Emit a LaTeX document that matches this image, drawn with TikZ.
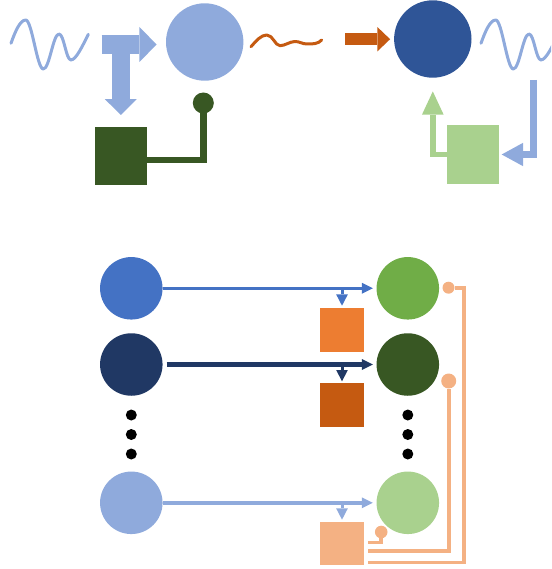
\documentclass[tikz,border=0pt]{standalone}
\usetikzlibrary{arrows.meta}
\definecolor{ltblue}{HTML}{8FAADC}
\definecolor{dkgreen}{HTML}{385723}
\definecolor{dkorange}{HTML}{C55A11}
\definecolor{navy}{HTML}{2F5597}
\definecolor{ltgreen}{HTML}{A9D18E}
\definecolor{blueA}{HTML}{4472C4}
\definecolor{blueB}{HTML}{203864}
\definecolor{greenA}{HTML}{70AD47}
\definecolor{orangeA}{HTML}{ED7D31}
\definecolor{peach}{HTML}{F4B183}
\begin{document}
\begin{tikzpicture}[x=1pt,y=-1pt,
  disc/.style={circle,inner sep=0pt,outer sep=0pt,minimum size=#1,draw=none},
  box/.style={rectangle,inner sep=0pt,outer sep=0pt,draw=none},
  bigdot/.style={circle,inner sep=0pt,outer sep=0pt,minimum size=11pt,fill=black,draw=none},
  wave/.style={line width=3pt,line cap=round,line join=round},
  tri/.style n args={2}{-{Triangle[length=#1,width=#2,line width=0pt]}}
]
\useasboundingbox (0,0) rectangle (551,569);
\clip (0,0) rectangle (551,569);

% ---------- top part ----------
\node[disc=77.4pt,fill=ltblue] (c1) at (204.7,42) {};
\node[disc=77.4pt,fill=navy] (c2) at (432.8,39) {};
\node[box,fill=dkgreen,minimum width=52.3pt,minimum height=58.3pt] (sqA) at (121.2,155.8) {};
\node[box,fill=ltgreen,minimum width=52.6pt,minimum height=59pt] (sqB) at (473,154.5) {};
\node[disc=21pt,fill=dkgreen] (dotA) at (203.3,103) {};

% waves
\draw[ltblue,wave] (11,43.3) .. controls (15,32) and (20,20) .. (25.7,20)
  .. controls (32,20) and (37,69) .. (43.3,69)
  .. controls (49.5,69) and (53,34) .. (59,34)
  .. controls (64,34) and (66,60) .. (71,60)
  .. controls (76,60) and (83,45) .. (88.3,34.3);
\begin{scope}[xshift=470pt]
\draw[ltblue,wave] (11,43.3) .. controls (15,32) and (20,20) .. (25.7,20)
  .. controls (32,20) and (37,69) .. (43.3,69)
  .. controls (49.5,69) and (53,34) .. (59,34)
  .. controls (64,34) and (66,60) .. (71,60)
  .. controls (76,60) and (83,45) .. (88.3,34.3);
\end{scope}
\draw[dkorange,wave] (251,46.7) .. controls (256,41) and (261,35) .. (266.7,35)
  .. controls (273,35) and (275,45.7) .. (280,45.7)
  .. controls (285,45.7) and (290,41.5) .. (295,41.5)
  .. controls (300,41.5) and (302,44) .. (307,44)
  .. controls (313,44) and (318,44) .. (321.7,40);

% T arrow
\coordinate (tstart) at (101.7,44.5);
\coordinate (tjoin) at (120.8,40);
\draw[ltblue,line width=18.3pt,tri={17.4pt}{35pt},shorten >=9.3pt] (tstart) -- (tstart -| c1.west);
\draw[ltblue,line width=18.3pt,tri={15.7pt}{31.7pt},shorten >=11.7pt] (tjoin) -- (tjoin |- sqA.north);

% green connector with dot
\draw[dkgreen,line width=6.6pt] (sqA.east) ++(0,4.2) -| (dotA);

% orange arrow
\coordinate (oastart) at (345,39.2);
\draw[dkorange,line width=11.7pt,tri={12.7pt}{24.3pt},shorten >=4pt] (oastart) -- (oastart -| c2.west);

% light green arrow
\draw[ltgreen,line width=5.8pt,tri={23.3pt}{21.7pt},shorten >=13.7pt] (sqB.west) -| (c2.south);

% blue feedback arrow
\coordinate (fbtop) at (533.3,80);
\draw[ltblue,line width=6.5pt,tri={21.3pt}{23.3pt},shorten >=2.4pt] (fbtop) |- (sqB.east);

% ---------- bottom part ----------
\node[disc=62.5pt,fill=blueA] (L1) at (131.3,288.3) {};
\node[disc=62.5pt,fill=blueB] (L2) at (131.3,364.5) {};
\node[disc=62.5pt,fill=ltblue] (L3) at (131.3,502.8) {};
\node[disc=62.5pt,fill=greenA] (R1) at (407.8,288.3) {};
\node[disc=62.5pt,fill=dkgreen] (R2) at (407.8,364.5) {};
\node[disc=62.5pt,fill=ltgreen] (R3) at (407.8,502.8) {};

\foreach \i/\y in {1/415,2/434.5,3/454}{
  \node[bigdot] (dl\i) at (131.3,\y) {};
  \node[bigdot] (dr\i) at (407.8,\y) {};
}

\node[box,fill=orangeA,minimum size=44pt] (sq1) at (342,329.7) {};
\node[box,fill=dkorange,minimum size=44pt] (sq2) at (342,405.3) {};
\node[box,fill=peach,minimum width=44pt,minimum height=43.3pt] (sq3) at (342,543.3) {};

\draw[blueA,line width=3.6pt,tri={11pt}{11pt},shorten >=3.7pt] (L1) -- (R1);
\draw[blueB,line width=4.2pt,tri={11pt}{11pt},shorten <=4pt,shorten >=3.7pt] (L2) -- (R2);
\draw[ltblue,line width=3.6pt,tri={11pt}{11pt},shorten >=3.7pt] (L3) -- (R3);

\draw[blueA,line width=3pt,tri={11.3pt}{11.7pt},shorten >=2pt] (sq1.north |- L1) -- (sq1.north);
\draw[blueB,line width=3pt,tri={11.3pt}{11.7pt},shorten >=2pt] (sq2.north |- L2) -- (sq2.north);
\draw[ltblue,line width=3pt,tri={11.3pt}{11.7pt},shorten >=2pt] (sq3.north |- L3) -- (sq3.north);

% peach feedback lines
\node[disc=12pt,fill=peach] (fbA) at (448.5,287.7) {};
\node[disc=15pt,fill=peach] (fbB) at (448.7,381) {};
\node[disc=12.6pt,fill=peach] (fbC) at (381.2,532) {};
\draw[peach,line width=3.8pt] (sq3.east) ++(4,19.2) -| ([xshift=15.5pt]fbA.center) -- (fbA);
\draw[peach,line width=3.8pt] (sq3.east) ++(4,7.7) -| (fbB);
\draw[peach,line width=3.8pt] (sq3.east) ++(4,-0.8) -| (fbC);
\end{tikzpicture}
\end{document}
